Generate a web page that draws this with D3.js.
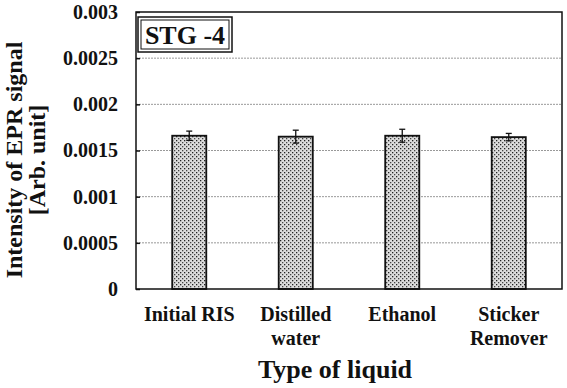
<!DOCTYPE html>
<html>
<head>
<meta charset="utf-8">
<script src="https://cdn.jsdelivr.net/npm/d3@7"></script>
<style>
  body { margin: 0; background: #fff; }
  text { font-family: "Liberation Serif", "Times New Roman", serif; font-weight: bold; fill: #111; }
</style>
</head>
<body>
<div id="chart"></div>
<script>
// data
const categories = ["Initial RIS", "Distilled\nwater", "Ethanol", "Sticker\nRemover"];
const values = [0.00166, 0.00165, 0.00166, 0.001645];
const errors = [0.00005, 0.00007, 0.00007, 0.00004];
const yTicks = [0, 0.0005, 0.001, 0.0015, 0.002, 0.0025, 0.003];
const yTickLabels = ["0", "0.0005", "0.001", "0.0015", "0.002", "0.0025", "0.003"];

const WIDTH = 567, HEIGHT = 388;
const margin = {left: 136, right: 5, top: 12, bottom: 99};

const svg = d3.select("#chart").append("svg")
  .attr("width", WIDTH)
  .attr("height", HEIGHT);

// dotted fill for bars
const defs = svg.append("defs");
const pat = defs.append("pattern")
  .attr("id", "dots")
  .attr("patternUnits", "userSpaceOnUse")
  .attr("width", 4).attr("height", 4);
pat.append("rect").attr("width", 4).attr("height", 4).attr("fill", "#dcdcdc");
pat.append("rect").attr("x", 0).attr("y", 0).attr("width", 1.3).attr("height", 1.3).attr("fill", "#222");
pat.append("rect").attr("x", 2).attr("y", 2).attr("width", 1.3).attr("height", 1.3).attr("fill", "#444");

const x = d3.scaleBand()
  .domain(categories)
  .range([margin.left, WIDTH - margin.right])
  .paddingInner(0.68)
  .paddingOuter(0.34);

const y = d3.scaleLinear()
  .domain([0, 0.003])
  .range([HEIGHT - margin.bottom, margin.top]);

// gridlines
svg.append("g")
  .selectAll("line")
  .data(yTicks.slice(1, -1))
  .enter().append("line")
  .attr("x1", margin.left).attr("x2", WIDTH - margin.right)
  .attr("y1", d => y(d)).attr("y2", d => y(d))
  .attr("stroke", "#999")
  .attr("stroke-width", 1)
  .attr("stroke-dasharray", "2,1");

// bars
svg.append("g")
  .selectAll("rect")
  .data(values)
  .enter().append("rect")
  .attr("x", (d, i) => x(categories[i]))
  .attr("y", d => y(d))
  .attr("width", x.bandwidth())
  .attr("height", d => y(0) - y(d))
  .attr("fill", "url(#dots)")
  .attr("stroke", "#111")
  .attr("stroke-width", 1.8);

// error bars
const eb = svg.append("g").attr("stroke", "#111").attr("stroke-width", 1.3);
values.forEach(function(v, i) {
  const cx = x(categories[i]) + x.bandwidth() / 2;
  eb.append("line").attr("x1", cx).attr("x2", cx).attr("y1", y(v + errors[i])).attr("y2", y(v - errors[i]));
  eb.append("line").attr("x1", cx - 3).attr("x2", cx + 3).attr("y1", y(v + errors[i])).attr("y2", y(v + errors[i]));
  eb.append("line").attr("x1", cx - 3).attr("x2", cx + 3).attr("y1", y(v - errors[i])).attr("y2", y(v - errors[i]));
});

// plot frame
svg.append("rect")
  .attr("x", margin.left).attr("y", margin.top)
  .attr("width", WIDTH - margin.right - margin.left)
  .attr("height", y(0) - margin.top)
  .attr("fill", "none")
  .attr("stroke", "#111")
  .attr("stroke-width", 1.5);

// y axis
const yAxis = svg.append("g")
  .attr("transform", "translate(" + margin.left + ",0)")
  .call(d3.axisLeft(y).tickValues(yTicks).tickSize(5).tickFormat((d, i) => yTickLabels[i]));
yAxis.select(".domain").remove();
yAxis.selectAll("line").attr("stroke", "#111").attr("stroke-width", 1.5).attr("x2", 4);
yAxis.selectAll("text")
  .attr("x", -18)
  .style("font-size", "20px")
  .style("font-family", "Liberation Serif")
  .style("font-weight", "bold")
  .attr("fill", "#111");

// category labels
const catG = svg.append("g").attr("class", "cats");
categories.forEach(function(c, i) {
  const cx = x(c) + x.bandwidth() / 2;
  const t = catG.append("text")
    .attr("text-anchor", "middle")
    .style("font-size", "20px")
    .attr("y", 321);
  c.split("\n").forEach(function(line, j) {
    t.append("tspan").attr("x", cx).attr("dy", j === 0 ? 0 : 24).text(line);
  });
});

// axis titles
svg.append("text")
  .attr("x", 335)
  .attr("y", 378)
  .attr("text-anchor", "middle")
  .style("font-size", "26px")
  .text("Type of liquid");

const yt = svg.append("text")
  .attr("transform", "translate(22,160) rotate(-90)")
  .attr("text-anchor", "middle")
  .style("font-size", "24px");
yt.append("tspan").attr("x", 0).attr("y", 0).text("Intensity of EPR signal");
yt.append("tspan").attr("x", 0).attr("y", 23).text("[Arb. unit]");

// sample label box
const bx = 138, by = 17, bw = 94, bh = 35;
svg.append("rect").attr("x", bx).attr("y", by).attr("width", bw).attr("height", bh)
  .attr("fill", "#fff").attr("stroke", "#111").attr("stroke-width", 1.5);
svg.append("rect").attr("x", bx + 3).attr("y", by + 3).attr("width", bw - 6).attr("height", bh - 6)
  .attr("fill", "none").attr("stroke", "#111").attr("stroke-width", 1);
svg.append("text")
  .attr("x", bx + bw / 2).attr("y", by + 27)
  .attr("text-anchor", "middle")
  .style("font-size", "26px")
  .text("STG -4");
</script>
</body>
</html>
